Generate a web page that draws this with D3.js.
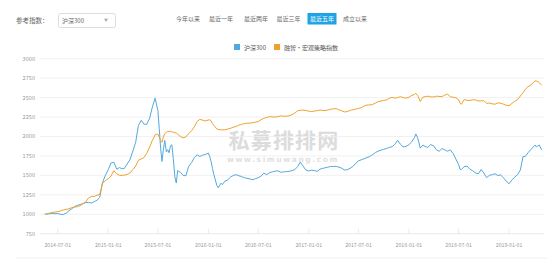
<!DOCTYPE html>
<html>
<head>
<meta charset="utf-8">
<script src="https://cdn.jsdelivr.net/npm/d3@7"></script>
<style>
  body { margin: 0; background: #fff; }
  svg { display: block; font-family: "Noto Sans CJK SC", "Noto Sans", sans-serif; }
</style>
</head>
<body>
<svg id="chart" width="556" height="263"></svg>
<script>
// Net value dates (both series normalised to 1000 at the start)
const dates = [
  "2014-05-15","2014-05-21","2014-06-01","2014-06-11","2014-06-21","2014-07-01","2014-07-11","2014-07-21","2014-08-01","2014-08-11","2014-08-21","2014-09-01","2014-09-11","2014-09-21","2014-10-01","2014-10-11","2014-10-21","2014-11-01","2014-11-11","2014-11-21","2014-12-01","2014-12-11","2014-12-21",
  "2015-01-01","2015-01-11","2015-01-21","2015-02-01","2015-02-11","2015-02-21","2015-03-01","2015-03-11","2015-03-21","2015-04-01","2015-04-11","2015-04-21","2015-05-01","2015-05-11","2015-05-21","2015-06-01","2015-06-11","2015-06-21","2015-07-01","2015-07-06","2015-07-11","2015-07-16","2015-07-21","2015-07-26","2015-08-01","2015-08-06","2015-08-11","2015-08-16","2015-08-21","2015-08-26","2015-09-01","2015-09-06","2015-09-11","2015-09-21","2015-10-01","2015-10-11","2015-10-21","2015-11-01","2015-11-11","2015-11-21","2015-12-01","2015-12-11","2015-12-21",
  "2016-01-01","2016-01-06","2016-01-11","2016-01-16","2016-01-21","2016-02-01","2016-02-06","2016-02-16","2016-02-21","2016-03-01","2016-03-11","2016-03-21","2016-04-01","2016-04-11","2016-04-21","2016-05-01","2016-05-11","2016-05-21","2016-06-01","2016-06-11","2016-06-21","2016-07-01","2016-07-11","2016-07-21","2016-08-01","2016-08-11","2016-08-21","2016-09-01","2016-09-11","2016-09-21","2016-10-01","2016-10-11","2016-10-21","2016-11-01","2016-11-11","2016-11-21","2016-12-01","2016-12-11","2016-12-21",
  "2017-01-01","2017-01-11","2017-01-21","2017-02-01","2017-02-11","2017-02-21","2017-03-01","2017-03-11","2017-03-21","2017-04-01","2017-04-11","2017-04-21","2017-05-01","2017-05-11","2017-05-21","2017-06-01","2017-06-11","2017-06-21","2017-07-01","2017-07-11","2017-07-21","2017-08-01","2017-08-11","2017-08-21","2017-09-01","2017-09-11","2017-09-21","2017-10-01","2017-10-11","2017-10-21","2017-11-01","2017-11-11","2017-11-21","2017-12-01","2017-12-11","2017-12-21",
  "2018-01-01","2018-01-11","2018-01-21","2018-01-26","2018-02-01","2018-02-06","2018-02-11","2018-02-21","2018-03-01","2018-03-11","2018-03-21","2018-04-01","2018-04-11","2018-04-21","2018-05-01","2018-05-11","2018-05-21","2018-06-01","2018-06-11","2018-06-21","2018-07-01","2018-07-06","2018-07-11","2018-07-21","2018-08-01","2018-08-11","2018-08-21","2018-09-01","2018-09-11","2018-09-21","2018-10-01","2018-10-11","2018-10-21","2018-11-01","2018-11-11","2018-11-21","2018-12-01","2018-12-11","2018-12-21",
  "2019-01-01","2019-01-11","2019-01-21","2019-02-01","2019-02-11","2019-02-21","2019-03-01","2019-03-11","2019-03-21","2019-04-01","2019-04-06","2019-04-11","2019-04-16","2019-04-21","2019-04-30"
];

// 沪深300
const hs300 = [
  1000,1003,1006,1010,1006,1009,1000,996,1015,1045,1070,1100,1115,1126,1136,1150,1152,1145,1162,1180,1215,1405,1495,
  1572,1658,1670,1580,1600,1585,1590,1645,1700,1815,1925,2140,2208,2160,2155,2235,2380,2492,2335,2100,1850,1680,1830,1950,1800,1830,1790,1880,1894,1720,1480,1401,1560,1540,1500,1495,1615,1665,1730,1764,1742,1760,1770,
  1786,1740,1680,1590,1510,1370,1340,1400,1380,1425,1440,1475,1500,1508,1495,1485,1470,1462,1453,1444,1458,1470,1490,1528,1510,1535,1545,1555,1558,1540,1545,1548,1551,1562,1575,1610,1670,1620,1570,
  1555,1567,1562,1552,1580,1590,1597,1605,1614,1615,1615,1605,1592,1570,1572,1592,1615,1655,1685,1700,1712,1730,1742,1765,1793,1812,1825,1835,1846,1858,1870,1900,1950,1900,1866,1872,
  1895,1930,1985,2033,1990,1930,1850,1890,1872,1860,1895,1880,1830,1810,1845,1830,1810,1828,1780,1710,1640,1580,1575,1612,1620,1580,1560,1530,1520,1575,1530,1470,1500,1510,1520,1498,1507,1470,1428,
  1392,1440,1475,1510,1568,1743,1743,1790,1832,1870,1890,1865,1880,1890,1828
];

// 融智·宏观策略指数
const rongzhi = [
  1000,1005,1015,1023,1028,1033,1043,1055,1063,1070,1085,1092,1098,1110,1135,1160,1209,1231,1228,1245,1252,1395,1430,
  1457,1490,1560,1520,1500,1500,1503,1512,1530,1575,1620,1695,1710,1727,1780,1865,1950,2022,2030,1990,1950,1925,1995,2035,2055,2065,2066,2064,2060,2055,2050,2043,2030,2000,1982,1995,2035,2075,2125,2192,2220,2210,2200,
  2212,2214,2200,2165,2145,2095,2090,2085,2085,2086,2095,2104,2120,2128,2145,2155,2165,2171,2172,2177,2185,2192,2215,2234,2245,2255,2252,2250,2255,2265,2260,2261,2265,2280,2300,2330,2336,2340,2335,
  2325,2321,2326,2332,2340,2335,2332,2340,2350,2355,2360,2342,2330,2316,2320,2335,2344,2352,2360,2370,2390,2405,2405,2410,2430,2448,2455,2464,2468,2492,2502,2493,2500,2512,2500,2493,
  2505,2528,2540,2554,2530,2495,2450,2505,2513,2518,2510,2508,2518,2515,2513,2530,2545,2511,2505,2497,2472,2430,2413,2474,2465,2462,2472,2470,2456,2458,2460,2425,2430,2420,2415,2432,2428,2416,2402,
  2395,2425,2450,2475,2520,2563,2605,2640,2660,2700,2715,2712,2705,2690,2661
];

const seriesNames = ["沪深300", "融智·宏观策略指数"];
const seriesColors = ["#52a9dd", "#f0a12c"];
const yTicks = [750, 1000, 1250, 1500, 1750, 2000, 2250, 2500, 2750, 3000];
const xTickLabels = ["2014-07-01","2015-01-01","2015-07-01","2016-01-01","2016-07-01","2017-01-01","2017-07-01","2018-01-01","2018-07-01","2019-01-01"];
const periodButtons = ["今年以来", "最近一年", "最近两年", "最近三年", "最近五年", "成立以来"];
const selectedPeriod = "最近五年";
const indexLabel = "参考指数：";
const indexChoice = "沪深300";

const parse = d3.timeParse("%Y-%m-%d");
const svg = d3.select("#chart");

// ---------- header: index selector and period buttons ----------
svg.append("text").attr("x", 16).attr("y", 22.5)
  .attr("font-size", 6.5).attr("fill", "#666").text(indexLabel);

svg.append("rect").attr("x", 58.5).attr("y", 13.5).attr("width", 57).attr("height", 14)
  .attr("rx", 2).attr("fill", "#fff").attr("stroke", "#d4d4d4").attr("stroke-width", 0.8);
svg.append("text").attr("x", 62).attr("y", 22.8)
  .attr("font-size", 6).attr("fill", "#666").text(indexChoice);
svg.append("text").attr("x", 104).attr("y", 22.3)
  .attr("font-size", 4).attr("fill", "#aaa").text("▼");

const btnCenters = [188, 221, 256, 288.5, 322, 355];
periodButtons.forEach((label, i) => {
  const sel = label === selectedPeriod;
  if (sel) {
    svg.append("rect").attr("x", btnCenters[i] - 14.5).attr("y", 13).attr("width", 29).attr("height", 11.5)
      .attr("fill", "#1ea4e4");
  }
  svg.append("text").attr("x", btnCenters[i]).attr("y", 21.2)
    .attr("text-anchor", "middle").attr("font-size", 6)
    .attr("fill", sel ? "#fff" : "#666").text(label);
});

// ---------- legend ----------
const legendX = [234, 274];
seriesNames.forEach((name, i) => {
  svg.append("rect").attr("x", legendX[i]).attr("y", 44).attr("width", 6).attr("height", 6)
    .attr("fill", seriesColors[i]);
  svg.append("text").attr("x", legendX[i] + 10).attr("y", 49.6)
    .attr("font-size", 6).attr("fill", "#555").text(name);
});

// ---------- plot ----------
const plotLeft = 40, plotRight = 544;
const x = d3.scaleTime()
  .domain([parse("2014-05-01"), parse("2019-05-01")])
  .range([41, 542]);
const y = d3.scaleLinear().domain([750, 3000]).range([233.7, 58.7]);

// watermark
svg.append("text").attr("x", 284).attr("y", 147.5)
  .attr("text-anchor", "middle").attr("font-size", 21).attr("font-weight", "bold")
  .attr("fill", "#dcdcdc").attr("letter-spacing", 1.2).text("私募排排网");
svg.append("text").attr("x", 283).attr("y", 161.5)
  .attr("text-anchor", "middle").attr("font-size", 7.5).attr("font-weight", "bold")
  .attr("font-family", "'DejaVu Sans', sans-serif")
  .attr("fill", "#e0e0e0").attr("letter-spacing", 1.6).text("www.simuwang.com");

// horizontal grid + y labels
const yAxis = svg.append("g");
yTicks.forEach(t => {
  yAxis.append("line").attr("x1", plotLeft).attr("x2", plotRight)
    .attr("y1", y(t)).attr("y2", y(t))
    .attr("stroke", t === 750 ? "#e2e2e2" : "#eeeeee").attr("stroke-width", 0.8);
  yAxis.append("text").attr("x", 35).attr("y", y(t)).attr("dy", "0.35em")
    .attr("text-anchor", "end").attr("font-size", 5.6).attr("fill", "#999").text(t);
});

// x ticks and labels
const xAxis = svg.append("g");
xTickLabels.forEach(lbl => {
  const px = x(parse(lbl));
  xAxis.append("line").attr("x1", px).attr("x2", px)
    .attr("y1", y(750) - 5).attr("y2", y(750))
    .attr("stroke", "#e4e4e4").attr("stroke-width", 0.8);
  xAxis.append("text").attr("x", px).attr("y", 247)
    .attr("text-anchor", "middle").attr("font-size", 5.2).attr("fill", "#999").text(lbl);
});

// bottom border of the panel
svg.append("line").attr("x1", 16).attr("x2", 547).attr("y1", 258).attr("y2", 258)
  .attr("stroke", "#f0f0f0").attr("stroke-width", 1);

// series lines
const seriesValues = [hs300, rongzhi];
const line = d3.line()
  .x(d => x(d.date))
  .y(d => y(d.value));
seriesValues.forEach((vals, i) => {
  const pts = dates.map((d, j) => ({ date: parse(d), value: vals[j] }));
  svg.append("path").datum(pts)
    .attr("fill", "none").attr("stroke", seriesColors[i])
    .attr("stroke-width", 1).attr("stroke-linejoin", "round")
    .attr("d", line);
});
</script>
</body>
</html>
